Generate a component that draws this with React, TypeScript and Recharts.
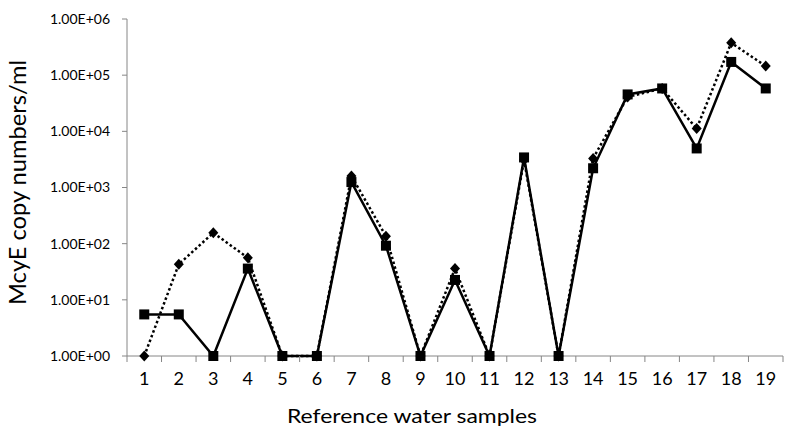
import React from "react";
import { LineChart, Line, XAxis, YAxis } from "recharts";

const samples = [1, 2, 3, 4, 5, 6, 7, 8, 9, 10, 11, 12, 13, 14, 15, 16, 17, 18, 19];
const diamondSeries = [1, 43, 156, 56, 1, 1, 1600, 136, 1, 36, 1, 3100, 1, 3300, 41000, 58000, 11200, 376000, 145000];
const squareSeries = [5.5, 5.5, 1, 36, 1, 1, 1250, 92, 1, 22.6, 1, 3430, 1, 2200, 45400, 58000, 4960, 172000, 58000];
const yTicks = [1, 10, 100, 1000, 10000, 100000, 1000000];
const xTicks = [0.5, ...samples.flatMap((s) => [s, s + 0.5])];

const yTitle = "McyE copy numbers/ml";
const xTitle = "Reference water samples";

const data = samples.map((s, i) => ({ sample: s, diamond: diamondSeries[i], square: squareSeries[i] }));

const FONT = "Lato, 'Open Sans', sans-serif";
const AXIS = "#868686";

const fmt = (v: number) => {
  const e = Math.round(Math.log10(v));
  return `1.00E+${String(e).padStart(2, "0")}`;
};

const XTick = (props: any) => {
  const { x, y, payload } = props;
  const v = payload.value;
  if (Number.isInteger(v)) {
    return (
      <text x={x} y={y + 12} textAnchor="middle" fontSize={18} fontFamily={FONT} fill="#000">
        {v}
      </text>
    );
  }
  return <line x1={x} x2={x} y1={y - 17} y2={y - 11} stroke={AXIS} strokeWidth={1} />;
};

const Diamond = (props: any) => {
  const { cx, cy } = props;
  if (cx == null || cy == null) return null;
  return (
    <polygon
      points={`${cx},${cy - 5.5} ${cx + 5},${cy} ${cx},${cy + 5.5} ${cx - 5},${cy}`}
      fill="#000"
    />
  );
};

const Square = (props: any) => {
  const { cx, cy } = props;
  if (cx == null || cy == null) return null;
  return <rect x={cx - 5} y={cy - 5} width={10} height={10} fill="#000" />;
};

export default function App() {
  const lineExtra: any = { zIndex: 700 };
  return (
    <div style={{ position: "absolute", left: 0, top: 0, width: 800, height: 433, background: "#fff" }}>
      <LineChart width={800} height={433} data={data} margin={{ top: 19, right: 17, bottom: 47, left: 0 }}>
        <XAxis
          dataKey="sample"
          type="number"
          domain={[0.5, 19.5]}
          ticks={xTicks}
          interval={0}
          allowDecimals
          tick={<XTick />}
          tickLine={false}
          tickSize={6}
          tickMargin={11}
          axisLine={{ stroke: AXIS, strokeWidth: 1 }}
          height={30}
        />
        <YAxis
          scale="log"
          domain={[1, 1000000]}
          ticks={yTicks}
          interval={0}
          tickFormatter={fmt}
          width={127}
          tickSize={5}
          tickMargin={12}
          tick={{ fontSize: 14, fontFamily: FONT, fill: "#000" }}
          tickLine={{ stroke: AXIS }}
          axisLine={{ stroke: AXIS, strokeWidth: 1 }}
        />
        <Line
          dataKey="square"
          stroke="#000"
          strokeWidth={2.5}
          dot={<Square />}
          activeDot={false}
          isAnimationActive={false}
          {...lineExtra}
        />
        <Line
          dataKey="diamond"
          stroke="#000"
          strokeWidth={2.5}
          strokeDasharray="2.5 2.5"
          dot={<Diamond />}
          activeDot={false}
          isAnimationActive={false}
          {...lineExtra}
        />
      </LineChart>
      <svg width={800} height={433} style={{ position: "absolute", left: 0, top: 0, pointerEvents: "none" }}>
        <text
          x={412}
          y={423}
          textAnchor="middle"
          fontSize={19}
          fontFamily={FONT}
          fill="#000"
          textLength={250}
          lengthAdjust="spacingAndGlyphs"
        >
          {xTitle}
        </text>
        <text
          transform="rotate(-90, 26, 182.5)"
          x={26}
          y={182.5}
          textAnchor="middle"
          fontSize={23}
          fontFamily={FONT}
          fill="#000"
          textLength={245}
          lengthAdjust="spacingAndGlyphs"
        >
          {yTitle}
        </text>
      </svg>
    </div>
  );
}
